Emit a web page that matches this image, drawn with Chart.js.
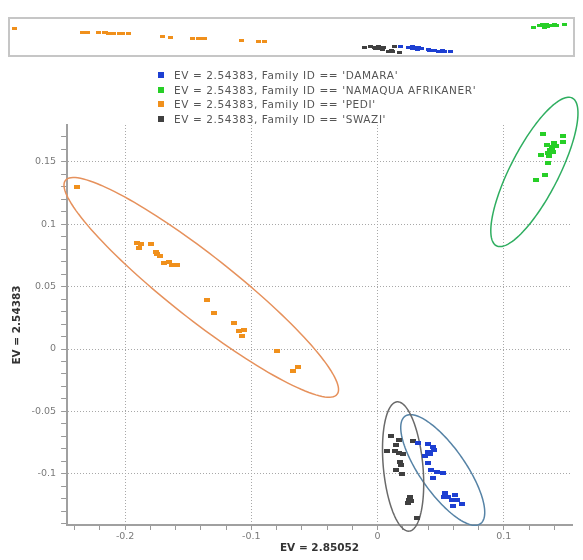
<!DOCTYPE html>
<html>
<head>
<meta charset="utf-8">
<script src="https://cdn.jsdelivr.net/npm/chart.js@4.4.1/dist/chart.umd.min.js"></script>
<style>
  html, body { margin: 0; padding: 0; background: #fff; }
  #wrap { position: relative; width: 583px; height: 560px; overflow: hidden; }
  #mainChart, #overviewChart { position: absolute; left: 0; top: 0; }
  #legend {
    position: absolute; left: 158px; top: 68px;
    font-family: "DejaVu Sans", sans-serif; font-size: 10.5px; letter-spacing: 0.6px;
    color: #555;
  }
  #legend .item { height: 14.7px; line-height: 14.7px; white-space: nowrap; }
  #legend .box { display: inline-block; width: 6px; height: 6px; margin-right: 10px; vertical-align: 1px; }
</style>
</head>
<body>
<div id="wrap">
  <canvas id="mainChart" width="583" height="560"></canvas>
  <canvas id="overviewChart" width="583" height="70"></canvas>
  <div id="legend"></div>
</div>
<script>
// groups, in legend order
const familyNames = ['DAMARA', 'NAMAQUA AFRIKANER', 'PEDI', 'SWAZI'];
const legendPrefix = "EV = 2.54383, Family ID == ";
const xTitle = 'EV = 2.85052';
const yTitle = 'EV = 2.54383';

const pointColors = ['#1d3fd2', '#27cf27', '#f0901c', '#404040'];
const ellipseColors = ['#5683a6', '#2fae60', '#e6915c', '#6a6a6a'];

// DAMARA
const damaraX = [0.0317, 0.0401, 0.0437, 0.0448, 0.0397, 0.0413, 0.0373, 0.0401, 0.0425, 0.0468,
                 0.0516, 0.0440, 0.0532, 0.0611, 0.0560, 0.0587, 0.0627, 0.0667, 0.0599, 0.0524];
const damaraY = [-0.0750, -0.0762, -0.0789, -0.0809, -0.0825, -0.0845, -0.0861, -0.0913, -0.0973, -0.0985,
                 -0.0997, -0.1033, -0.1152, -0.1168, -0.1184, -0.1208, -0.1212, -0.1240, -0.1260, -0.1184];
// NAMAQUA AFRIKANER
const namaquaX = [0.1312, 0.1471, 0.1466, 0.1401, 0.1345, 0.1379, 0.1365, 0.1389, 0.1352, 0.1294,
                  0.1352, 0.1325, 0.1254, 0.1381, 0.1413, 0.1357];
const namaquaY = [0.1722, 0.1707, 0.1659, 0.1651, 0.1635, 0.1619, 0.1595, 0.1579, 0.1571, 0.1553,
                  0.1487, 0.1396, 0.1356, 0.1603, 0.1623, 0.1547];
// PEDI
const pediX = [-0.2381, -0.1905, -0.1873, -0.1889, -0.1794, -0.1754, -0.1746, -0.1722, -0.1690, -0.1651,
               -0.1627, -0.1587, -0.1349, -0.1294, -0.1135, -0.1095, -0.1056, -0.1075, -0.0796, -0.0632, -0.0672];
const pediY = [0.1300, 0.0853, 0.0845, 0.0813, 0.0845, 0.0781, 0.0758, 0.0742, 0.0686, 0.0694,
               0.0670, 0.0670, 0.0395, 0.0285, 0.0205, 0.0147, 0.0154, 0.0108, -0.0016, -0.0141, -0.0178];
// SWAZI
const swaziX = [0.0107, 0.0169, 0.0280, 0.0148, 0.0071, 0.0137, 0.0172, 0.0201, 0.0175, 0.0183,
                0.0147, 0.0194, 0.0254, 0.0246, 0.0238, 0.0266, 0.0310];
const swaziY = [-0.0698, -0.0731, -0.0734, -0.0771, -0.0816, -0.0817, -0.0832, -0.0845, -0.0909, -0.0929,
                -0.0969, -0.1005, -0.1188, -0.1210, -0.1232, -0.1220, -0.1352];

// ellipse per group: centre and the two semi-axis vectors, in data units
const ellipseCx = [0.0516, 0.1242, -0.1397, 0.0202];
const ellipseCy = [-0.0969, 0.1419, 0.0494, -0.0941];
const ellipseAx = [0.0298, 0.0300, 0.1076, 0.0048];
const ellipseAy = [-0.0431, 0.0592, -0.0857, -0.0518];
const ellipseBx = [-0.0148, 0.0171, -0.0158, 0.0156];
const ellipseBy = [-0.0104, -0.0087, -0.0200, 0.0014];

// axis ticks
const xMajorTicks = [-0.2, -0.1, 0, 0.1];
const yMajorTicks = [-0.1, -0.05, 0, 0.05, 0.1, 0.15];
const xMinorStep = 0.02;
const yMinorStep = 0.01;

const groupX = [damaraX, namaquaX, pediX, swaziX];
const groupY = [damaraY, namaquaY, pediY, swaziY];

function makeMarker(color, w, h) {
  const c = document.createElement('canvas');
  c.width = w; c.height = h;
  const g = c.getContext('2d');
  g.fillStyle = color;
  g.fillRect(0, 0, w, h);
  return c;
}

function stepTicks(min, max, step) {
  const out = [];
  for (let k = Math.ceil(min / step - 1e-9); k * step <= max + 1e-9; k++) {
    out.push(Math.round(k * step * 1000) / 1000);
  }
  return out;
}

function isMajor(v, majors) {
  return majors.some(m => Math.abs(m - v) < 1e-9);
}

function buildDatasets(mw, mh) {
  return familyNames.map((name, i) => ({
    label: legendPrefix + "'" + name + "'",
    data: groupX[i].map((x, j) => ({ x: x, y: groupY[i][j] })),
    pointStyle: makeMarker(pointColors[i], mw, mh),
    pointRadius: 3,
    backgroundColor: pointColors[i],
    borderColor: pointColors[i],
    clip: false
  }));
}

const ellipsePlugin = {
  id: 'ellipses',
  beforeDatasetsDraw(chart) {
    const ctx = chart.ctx;
    const xs = chart.scales.x, ys = chart.scales.y;
    ctx.save();
    ctx.lineWidth = 1.5;
    familyNames.forEach((name, i) => {
      ctx.strokeStyle = ellipseColors[i];
      ctx.beginPath();
      for (let k = 0; k <= 144; k++) {
        const t = k / 144 * Math.PI * 2;
        const vx = ellipseCx[i] + ellipseAx[i] * Math.cos(t) + ellipseBx[i] * Math.sin(t);
        const vy = ellipseCy[i] + ellipseAy[i] * Math.cos(t) + ellipseBy[i] * Math.sin(t);
        const px = xs.getPixelForValue(vx), py = ys.getPixelForValue(vy);
        if (k === 0) ctx.moveTo(px, py); else ctx.lineTo(px, py);
      }
      ctx.closePath();
      ctx.stroke();
    });
    ctx.restore();
  }
};

const xTickValues = stepTicks(-0.246, 0.154, xMinorStep);
const yTickValues = stepTicks(-0.141, 0.1795, yMinorStep);

const mainChart = new Chart(document.getElementById('mainChart'), {
  type: 'scatter',
  data: { datasets: buildDatasets(6, 4) },
  options: {
    responsive: false,
    animation: false,
    layout: { padding: { top: 125, right: 11, bottom: 6, left: 12 } },
    plugins: { legend: { display: false }, tooltip: { enabled: false } },
    scales: {
      x: {
        type: 'linear',
        min: -0.246,
        max: 0.154,
        afterBuildTicks: axis => { axis.ticks = xTickValues.map(v => ({ value: v })); },
        ticks: {
          autoSkip: false, maxRotation: 0, padding: 2, color: '#7a7a7a',
          font: { family: 'DejaVu Sans', size: 9.5, lineHeight: 1 },
          callback: v => isMajor(v, xMajorTicks) ? String(v) : ''
        },
        grid: {
          color: c => (c.tick && isMajor(c.tick.value, xMajorTicks)) ? '#a8a8a8' : 'transparent',
          tickColor: '#9a9a9a', tickWidth: 1, tickLength: 5, lineWidth: 1
        },
        border: { color: '#a0a0a0', width: 2, dash: [1, 2] },
        title: {
          display: true, text: xTitle, color: '#333', padding: { top: 0, bottom: 0 },
          font: { family: 'DejaVu Sans', size: 10.5, weight: 'bold', lineHeight: 1 }
        }
      },
      y: {
        type: 'linear',
        min: -0.141,
        max: 0.1795,
        afterBuildTicks: axis => { axis.ticks = yTickValues.map(v => ({ value: v })); },
        ticks: {
          autoSkip: false, padding: 5, color: '#7a7a7a',
          font: { family: 'DejaVu Sans', size: 9.5, lineHeight: 1 },
          callback: v => isMajor(v, yMajorTicks) ? String(v) : ''
        },
        grid: {
          color: c => (c.tick && isMajor(c.tick.value, yMajorTicks)) ? '#a8a8a8' : 'transparent',
          tickColor: '#9a9a9a', tickWidth: 1, tickLength: 6, lineWidth: 1
        },
        border: { color: '#a0a0a0', width: 2, dash: [1, 2] },
        title: {
          display: true, text: yTitle, color: '#333', padding: { top: 0, bottom: 4 },
          font: { family: 'DejaVu Sans', size: 10.5, weight: 'bold', lineHeight: 1 }
        }
      }
    }
  },
  plugins: [ellipsePlugin]
});

// framed overview strip at the top
const framePlugin = {
  id: 'frame',
  beforeDraw(chart) {
    const a = chart.chartArea, ctx = chart.ctx;
    ctx.save();
    ctx.strokeStyle = '#c6c6c6';
    ctx.lineWidth = 2;
    ctx.strokeRect(a.left - 1, a.top - 1, a.right - a.left + 2, a.bottom - a.top + 2);
    ctx.restore();
  }
};

new Chart(document.getElementById('overviewChart'), {
  type: 'scatter',
  data: { datasets: buildDatasets(5, 3) },
  options: {
    responsive: false,
    animation: false,
    layout: { padding: { top: 19, right: 10, bottom: 15, left: 10 } },
    plugins: { legend: { display: false }, tooltip: { enabled: false } },
    scales: {
      x: { type: 'linear', display: false, min: -0.2415, max: 0.1528 },
      y: { type: 'linear', display: false, min: -0.164, max: 0.228 }
    }
  },
  plugins: [framePlugin]
});

// legend
const legendEl = document.getElementById('legend');
mainChart.data.datasets.forEach((ds, i) => {
  const row = document.createElement('div');
  row.className = 'item';
  const box = document.createElement('span');
  box.className = 'box';
  box.style.background = pointColors[i];
  row.appendChild(box);
  row.appendChild(document.createTextNode(ds.label));
  legendEl.appendChild(row);
});
</script>
</body>
</html>
